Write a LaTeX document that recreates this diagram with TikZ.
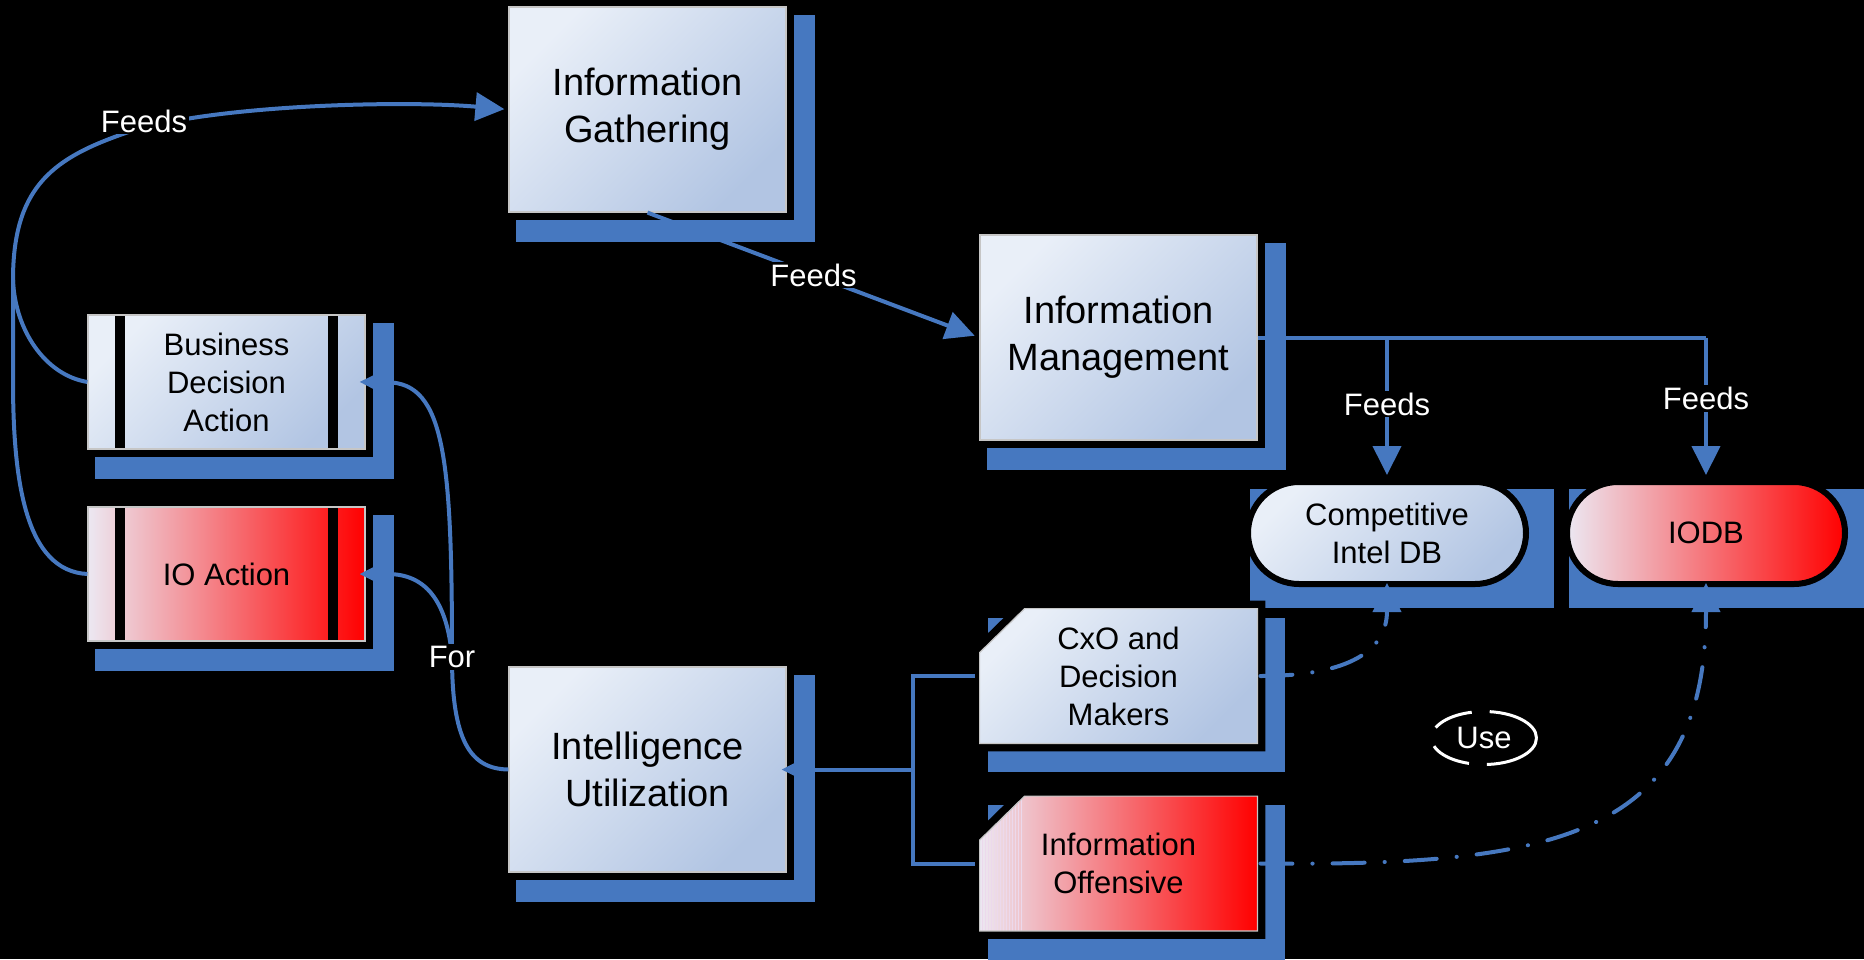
\documentclass[tikz,border=0pt]{standalone}
\usepackage{fontspec}
\setmainfont{Liberation Sans}
\usetikzlibrary{arrows.meta,calc,shapes.geometric,shapes.misc,backgrounds}

\definecolor{dropblue}{RGB}{70,120,192}
\definecolor{boxhi}{RGB}{233,239,248}
\definecolor{boxlo}{RGB}{178,197,227}
\definecolor{iohi}{RGB}{236,232,242}
\definecolor{iolo}{RGB}{255,0,0}

\tikzset{
	wire/.style={draw=dropblue, line width=2pt},
	arrowed/.style={-{Triangle[length=14.5pt,width=14pt]}},
	usedash/.style={dash pattern=on 16pt off 10pt on 0.1pt off 10pt, line cap=round},
	bluefill/.style={top color=boxhi, bottom color=boxlo, shading angle=45},
	redfill/.style={left color=iohi, right color=iolo},
	smalltext/.style={font=\fontsize{15.5pt}{19pt}\selectfont},
	card/.style={rectangle, draw=gray!45, line width=0.6pt, preaction={draw=black, line width=8pt},
		minimum width=138.5pt, align=center, inner sep=0pt},
	bigbox/.style={card, bluefill, minimum height=102.5pt, font=\fontsize{19pt}{23.5pt}\selectfont},
	process/.style={card, smalltext, minimum height=67pt, path picture={
		\draw[black, line width=4.6pt]
			([xshift=16pt]path picture bounding box.north west) -- ([xshift=16pt]path picture bounding box.south west)
			([xshift=-16pt]path picture bounding box.north east) -- ([xshift=-16pt]path picture bounding box.south east);}},
	doc/.style={rectangle, smalltext, minimum width=138.5pt, minimum height=67pt, align=center, inner sep=0pt},
	docshape/.style={draw=gray!45, line width=0.6pt, preaction={draw=black, line width=8pt}},
	db/.style={rounded rectangle, draw=black, line width=3pt, smalltext, minimum width=139pt, minimum height=51pt,
		align=center, inner sep=0pt},
	lbl/.style={fill=black, text=white, smalltext, inner sep=1pt},
	uselbl/.style={ellipse, draw=white, line width=1.5pt, text=white, smalltext, minimum width=52.5pt,
		minimum height=26.5pt, inner sep=0pt, dash pattern=on 29pt off 9pt on 20pt off 10pt on 20pt off 9pt on 40pt}
}

\begin{document}
\begin{tikzpicture}[x=0.5pt,y=-0.5pt]
	\useasboundingbox (0,0) rectangle (1864,959);

	\node[bigbox] (gather) at (647.5,109.5) {Information\\Gathering};
	\node[bigbox] (manage) at (1118.5,337.5) {Information\\Management};
	\node[bigbox] (util) at (647.5,769.5) {Intelligence\\Utilization};
	\node[process, bluefill] (bda) at (226.5,382) {Business\\Decision\\Action};
	\node[process, redfill] (ioa) at (226.5,574) {IO Action};
	\node[doc] (cxo) at (1118.5,676) {CxO and\\Decision\\Makers};
	\node[doc] (offn) at (1118.5,863.5) {Information\\Offensive};
	\node[db, bluefill] (cidb) at (1387,533) {Competitive\\Intel DB};
	\node[db, redfill] (iodb) at (1706,533) {IODB};

	\begin{pgfonlayer}{background}
		\fill[black] (0,0) rectangle (1864,959);
		\foreach \n in {gather,manage,util,bda,ioa,cxo,offn}
			\fill[dropblue] ($(\n.north west)+(8,9)$) rectangle ($(\n.south east)+(28,29)$);
		\foreach \n in {cidb,iodb}
			\fill[dropblue] ($(\n.north -| \n.west)+(5,10)$) rectangle ($(\n.south -| \n.east)+(25,21)$);
		\path[docshape, bluefill] ($(cxo.north west)+(0,44)$) -- ($(cxo.north west)+(45,0)$)
			-- (cxo.north east) -- (cxo.south east) -- (cxo.south west) -- cycle;
		\path[docshape, redfill, path picture={
			\foreach \k in {1,...,14}
				\draw[violet!15, line width=0.5pt] ([xshift=\k*1.5pt]path picture bounding box.north west)
					-- ([xshift=\k*1.5pt]path picture bounding box.south west);}]
			($(offn.north west)+(0,44)$) -- ($(offn.north west)+(45,0)$)
			-- (offn.north east) -- (offn.south east) -- (offn.south west) -- cycle;
	\end{pgfonlayer}

	\coordinate (loop) at (13,280);
	\draw[wire] (bda.west) .. controls (45,375) and (15,330) .. (loop);
	\draw[wire] (ioa.west) .. controls (25,571) and (13,480) .. (13,380) -- (loop);
	\draw[wire, arrowed, shorten >=2pt] (loop) .. controls (13,190) and (50,160) .. (120,135)
		.. controls (200,105) and (400,100) .. (gather.west);
	\node[lbl] (feedsA) at (144,121) {Feeds};

	\draw[wire, arrowed, shorten >=2.5pt] (gather.south) -- node[lbl] (feedsB) {Feeds} (manage.west);

	\draw[wire] (manage.east) -- (manage.east -| iodb.north);
	\draw[wire, arrowed, shorten >=2pt] (manage.east -| cidb.north) -- node[lbl, pos=0.47] (feedsC) {Feeds} (cidb.north);
	\draw[wire, arrowed, shorten >=2pt] (manage.east -| iodb.north) -- node[lbl, pos=0.43] (feedsD) {Feeds} (iodb.north);

	\coordinate (brk) at (913,769.5);
	\draw[wire] ($(cxo.west)+(-5,0)$) -| (brk) |- ($(offn.west)+(-5,0)$);
	\draw[wire, arrowed, shorten >=-2.5pt] (brk) -- (util.east);

	\coordinate (forpt) at (452,657);
	\draw[wire] (util.west) .. controls (470,769) and (452,740) .. (forpt);
	\draw[wire, arrowed, shorten >=-3pt] (forpt) .. controls (452,460) and (445,383) .. (bda.east);
	\draw[wire, arrowed, shorten >=-3pt] (forpt) .. controls (447,600) and (425,574) .. (ioa.east);
	\node[lbl] (forlbl) at (forpt) {For};

	\draw[wire, usedash, arrowed, shorten >=-2pt] ($(cxo.east)+(3,0)$) .. controls (1350,676) and (1387,650) .. (cidb.south);
	\draw[wire, usedash, arrowed, shorten >=-2pt] ($(offn.east)+(3,0)$) .. controls (1550,866) and (1706,840) .. (iodb.south);

	\node[uselbl] (use) at (1484,738) {Use};
\end{tikzpicture}
\end{document}
